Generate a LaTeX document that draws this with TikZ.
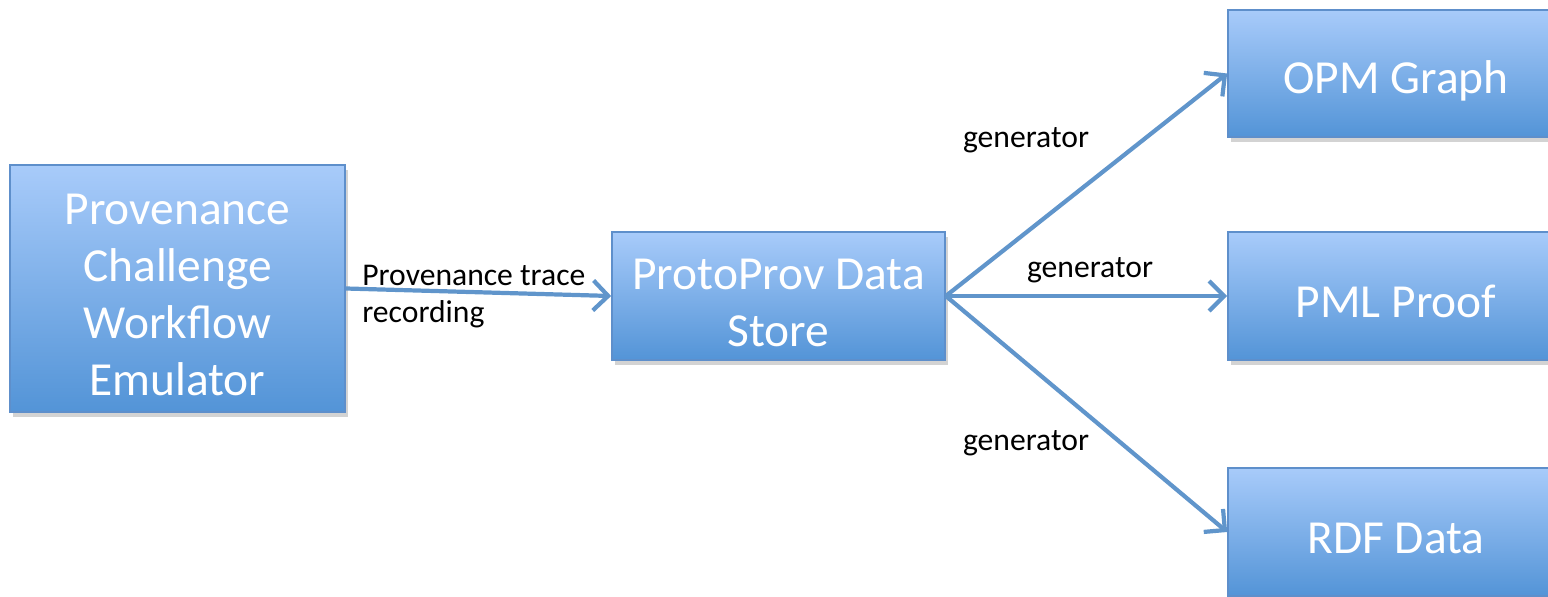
\documentclass[tikz,border=0pt]{standalone}
\usepackage{fontspec}
\setmainfont{Carlito}
\usetikzlibrary{positioning, shadows, arrows.meta}

\definecolor{boxtop}{HTML}{A8CBFA}
\definecolor{boxbot}{HTML}{5394D7}
\definecolor{boxline}{HTML}{5E8FCB}
\definecolor{arrowblue}{HTML}{6095CB}

\tikzset{
 block/.style={draw=boxline, line width=1pt, top color=boxtop, bottom color=boxbot,
   text=white, align=center, inner sep=0pt, font=\fontsize{27}{32.5}\selectfont,
   drop shadow={shadow xshift=1.5pt, shadow yshift=-3pt, opacity=0.35}},
 flow/.style={draw=arrowblue, line width=2.4pt, -{Straight Barb[length=3mm, width=6mm]}},
 tag/.style={font=\fontsize{18}{21.5}\selectfont, align=left, inner sep=0pt}
}

\begin{document}
\begin{tikzpicture}[x=0.02cm, y=-0.02cm]
 \clip (0,0) rectangle (1548,597);

 \node[block, minimum width=6.7cm, minimum height=4.94cm] (prov) at (177.5,288.5) {\rule{0pt}{25pt}Provenance\\Challenge\\Workflow\\Emulator};
 \node[block, minimum width=6.66cm, minimum height=2.56cm] (store) at (778.5,296) {\rule{0pt}{25pt}ProtoProv Data\\Store};

 \node[block, minimum width=6.72cm, minimum height=2.54cm] (opm) at (1396,73.5) {\rule{0pt}{27pt}OPM Graph};
 \node[block, minimum width=6.72cm, minimum height=2.56cm] (pml) at (1396,296) {\rule{0pt}{25pt}PML Proof};
 \node[block, minimum width=6.72cm, minimum height=2.56cm] (rdf) at (1396,532) {\rule{0pt}{25pt}RDF Data};

 \draw[flow] (prov.east) -- (store.west);
 \draw[flow] (store.east) -- (opm.west);
 \draw[flow] (store.east) -- (pml.west);
 \draw[flow] (store.east) -- (rdf.west);

 \node[tag, anchor=west] (trace) at (362,296.5) {Provenance trace\\recording};
 \node[tag] (gen1) at (1026,140) {generator};
 \node[tag] (gen2) at (1090,270) {generator};
 \node[tag] (gen3) at (1026,443) {generator};
\end{tikzpicture}
\end{document}
